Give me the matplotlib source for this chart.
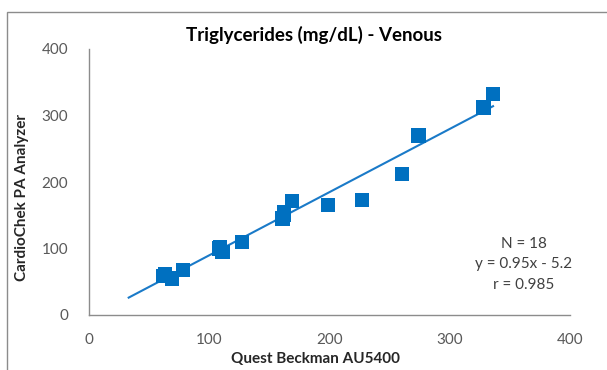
import matplotlib.pyplot as plt
from matplotlib.patches import Rectangle

# Quest Beckman AU5400 (x) vs CardioChek PA Analyzer (y), mg/dL
quest = [62, 63, 69, 78, 108, 109, 111, 127, 161, 162, 162, 169, 199, 227, 260, 274, 328, 336]
cardiochek = [59, 61, 55, 68, 100, 102, 95, 110, 145, 150, 155, 172, 165, 173, 212, 270, 312, 332]

slope = 0.95
intercept = -5.2
fit_x = [33, 336]
fit_y = [slope * v + intercept for v in fit_x]
stats_text = "N = 18\ny = 0.95x - 5.2\nr = 0.985"

blue = "#0070C0"
text_gray = "#595959"
plt.rcParams['font.family'] = ['Lato', 'DejaVu Sans']

fig = plt.figure(figsize=(6.07, 3.70), dpi=100)
ax = fig.add_axes([89 / 607, 55 / 370, 481 / 607, 266 / 370])

ax.plot(fit_x, fit_y, color="#1a7ac8", linewidth=1.5, zorder=2)
ax.scatter(quest, cardiochek, marker="s", s=105, color=blue, edgecolors="none", zorder=3)

ax.set_xlim(0, 400)
ax.set_ylim(0, 400)
ax.set_xticks([0, 100, 200, 300, 400])
ax.set_yticks([0, 100, 200, 300, 400])
ax.tick_params(length=0, labelsize=11, labelcolor=text_gray)
ax.tick_params(axis="x", pad=13)
ax.tick_params(axis="y", pad=15)
for side in ["top", "right"]:
    ax.spines[side].set_visible(False)
for side in ["left", "bottom"]:
    ax.spines[side].set_color("#8c8c8c")
    ax.spines[side].set_linewidth(1.0)

ax.set_xlabel("Quest Beckman AU5400", fontsize=11, fontweight="bold", color="#262626")
ax.set_ylabel("CardioChek PA Analyzer", fontsize=11, fontweight="bold", color="#262626")
ax.xaxis.set_label_coords(0.47, -0.165)
ax.yaxis.set_label_coords(-0.139, 0.44)
ax.xaxis.label.set_va("center")
ax.yaxis.label.set_va("center")
fig.text(314 / 607, 1 - 35 / 370, "Triglycerides (mg/dL) - Venous", ha="center", va="center",
         fontsize=13.5, fontweight="bold", color="#000000")

ax.text(0.904, 0.19, stats_text, transform=ax.transAxes, ha="center", va="center",
        fontsize=11, color="#404040", linespacing=1.55)

# chart border (bottom and right edges fall outside the image)
fig.patches.append(Rectangle((7 / 607, -0.05), 1.2, 1 - 12 / 370 + 0.05, transform=fig.transFigure,
                             fill=False, edgecolor="#8c8c8c", linewidth=1.0))

fig.savefig("out.png", dpi=100)
